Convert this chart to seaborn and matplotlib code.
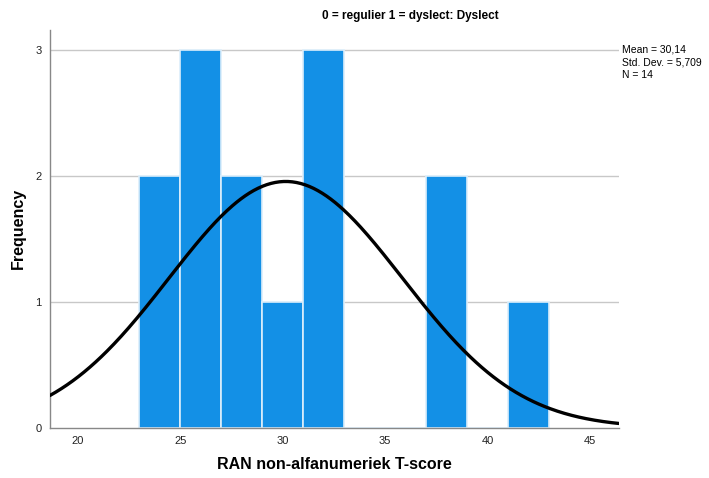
import numpy as np
import pandas as pd
import matplotlib
matplotlib.use("Agg")
import matplotlib.pyplot as plt
import seaborn as sns

# Histogram of T-scores (bin width 2)
bin_left = [23, 25, 27, 29, 31, 33, 35, 37, 39, 41]
counts = [2, 3, 2, 1, 3, 0, 0, 2, 0, 1]
bin_width = 2

# Summary statistics shown in the legend box
mean_val = 30.14
sd_val = 5.709
n_val = 14

x_ticks = [20, 25, 30, 35, 40, 45]
y_ticks = [0, 1, 2, 3]

title = "0 = regulier 1 = dyslect: Dyslect"
x_label = "RAN non-alfanumeriek T-score"
y_label = "Frequency"

sns.set_style("white")
plt.rcParams["font.family"] = ["Liberation Sans", "DejaVu Sans"]
plt.rcParams["text.color"] = "black"
plt.rcParams["axes.labelcolor"] = "black"

fig = plt.figure(figsize=(7.09, 4.78), dpi=100)
ax = fig.add_axes([0.0705, 0.1052, 0.8021, 0.832])

df = pd.DataFrame({"center": [b + bin_width / 2 for b in bin_left], "count": counts})
edges = bin_left + [bin_left[-1] + bin_width]

x_min, x_max = 18.63, 46.4
y_max = 3.16

# Grid lines behind bars
for yv in y_ticks[1:]:
    ax.axhline(yv, color="#c8c8c8", lw=1.0, zorder=0)

sns.histplot(data=df, x="center", weights="count", bins=edges, stat="count",
             color="#1390e6", alpha=1.0, edgecolor="#dceefb", linewidth=1.2,
             ax=ax, zorder=2)

# Normal curve scaled to counts
xs = np.linspace(x_min, x_max, 400)
ys = n_val * bin_width / (sd_val * np.sqrt(2 * np.pi)) * np.exp(-0.5 * ((xs - mean_val) / sd_val) ** 2)
sns.lineplot(x=xs, y=ys, color="black", lw=2.4, ax=ax, zorder=3)

ax.set_xlim(x_min, x_max)
ax.set_ylim(0, y_max)
ax.set_xticks(x_ticks)
ax.set_yticks(y_ticks)
ax.tick_params(axis="both", length=0, labelsize=8, colors="#222222")
ax.tick_params(axis="x", pad=6)
ax.tick_params(axis="y", pad=6)

for side in ["top", "right"]:
    ax.spines[side].set_visible(False)
for side in ["left", "bottom"]:
    ax.spines[side].set_color("#888888")
    ax.spines[side].set_linewidth(1.0)

ax.set_xlabel(x_label, fontsize=11.5, fontweight="bold")
ax.set_ylabel(y_label, fontsize=11.5, fontweight="bold")
ax.xaxis.set_label_coords(0.5, -0.092)
ax.yaxis.set_label_coords(-0.055, 0.5)
ax.xaxis.label.set_va("center")
ax.yaxis.label.set_va("center")

fig.text(410 / 709, 1 - 16 / 478, title, ha="center", va="center",
         fontsize=8.5, fontweight="bold")

# Decimal comma formatting for the statistics
mean_txt = f"{mean_val:.2f}".replace(".", ",")
sd_txt = f"{sd_val:.3f}".replace(".", ",")
stats = f"Mean = {mean_txt}\nStd. Dev. = {sd_txt}\nN = {n_val}"
fig.text(622 / 709, 1 - 45 / 478, stats, ha="left", va="top",
         fontsize=7.5, linespacing=1.3)

fig.savefig("out.png", dpi=100)
